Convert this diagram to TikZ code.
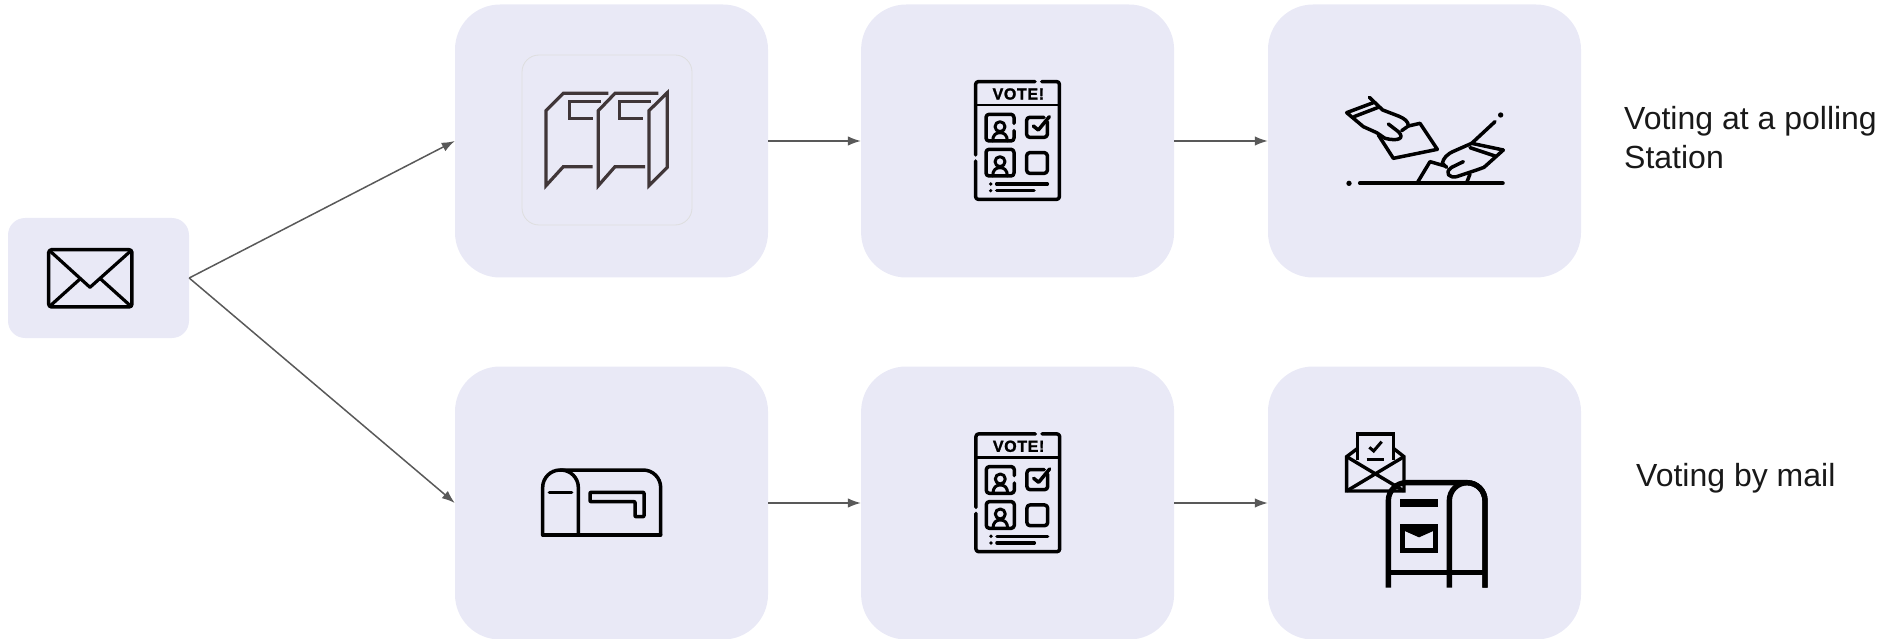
\documentclass[tikz,border=0pt]{standalone}
\usepackage{fontspec}
\setmainfont{Liberation Sans}
\usetikzlibrary{arrows.meta}
\definecolor{boxfill}{HTML}{E9E9F6}
\definecolor{flowgray}{HTML}{595959}
\definecolor{mailsink}{HTML}{403638}
\tikzset{
  bigbox/.style={fill=boxfill,draw=none,rounded corners=45pt,minimum width=313pt,minimum height=273pt,inner sep=0pt},
  smallbox/.style={fill=boxfill,draw=none,rounded corners=17pt,minimum width=181pt,minimum height=120pt,inner sep=0pt},
  flow/.style={draw=flowgray,line width=1.5pt,-{Latex[length=13pt,width=9.5pt]}},
  ink/.style={line width=#1,line cap=round,line join=round,draw=black},
  ink/.default=3.5pt,
  caption/.style={inner sep=0pt,align=left,font=\fontsize{32}{39}\selectfont,text=black!90}
}
\newcommand{\voteicon}[1]{%
  \draw[ink,rounded corners=2.5pt] (255,65) -- (77,65) -- (77,285);
  \draw[ink,rounded corners=2.5pt] (77,303) -- (77,418) -- (328,418) -- (328,65) -- (275,65);
  \draw[ink,line width=2.4pt] (77,135) -- (328,135);
  \node[inner sep=0pt,font=\bfseries\fontsize{16}{16}\selectfont] (#1) at (205,102) {\addfontfeature{LetterSpace=4,FakeBold=1.5}VOTE!};
  \draw[ink,rounded corners=3pt] (192,190) -- (192,163) -- (108,163) -- (108,243) -- (192,243) -- (192,212);
  \draw[ink,rounded corners=3pt] (108,268) rectangle (192,348);
  \draw[ink,line width=3pt] (150,200) circle[radius=15];
  \draw[ink,line width=3pt] (128,243) .. controls (128,225) and (138,218) .. (150,218) .. controls (162,218) and (172,225) .. (172,243);
  \draw[ink,line width=3pt] (150,305) circle[radius=15];
  \draw[ink,line width=3pt] (128,348) .. controls (128,330) and (138,323) .. (150,323) .. controls (162,323) and (172,330) .. (172,348);
  \draw[ink,rounded corners=3pt] (292,185) -- (292,232) -- (230,232) -- (230,172) -- (282,172);
  \draw[ink] (250,198) -- (265,210) -- (298,170);
  \draw[ink,rounded corners=3pt] (230,278) rectangle (292,340);
  \fill (122,372) circle[radius=5.5];
  \fill (122,392) circle[radius=5.5];
  \draw[ink] (140,372) -- (292,372);
  \draw[ink] (140,392) -- (252,392);
}
\begin{document}
\begin{tikzpicture}[x=1pt,y=-1pt]
\useasboundingbox (0,0) rectangle (1883,639);
% boxes
\node[smallbox] (env) at (98.5,278) {};
\node[bigbox] (a1) at (611.5,141) {};
\node[bigbox] (a2) at (1017.6,141) {};
\node[bigbox] (a3) at (1424.5,141) {};
\node[bigbox] (b1) at (611.5,503) {};
\node[bigbox] (b2) at (1017.6,503) {};
\node[bigbox] (b3) at (1424.5,503) {};
\node[draw=black!13,fill=boxfill,line width=.8pt,rounded corners=17pt,minimum width=170pt,minimum height=170pt,inner sep=0pt] (mailsframe) at (607,140) {};
% connectors
\draw[flow] (env.east) -- (a1.west);
\draw[flow] (env.east) -- (b1.west);
\draw[flow] (a1.east) -- (a2.west);
\draw[flow] (a2.east) -- (a3.west);
\draw[flow] (b1.east) -- (b2.west);
\draw[flow] (b2.east) -- (b3.west);
% envelope icon
\begin{scope}[shift={(0,200)},scale=1/3]
  \draw[ink=3.5pt,rounded corners=3pt] (146,149) rectangle (396,321);
  \draw[ink=3.2pt] (150,153) -- (270,262) -- (392,153);
  \draw[ink=3.2pt] (150,318) -- (240,237);
  \draw[ink=3.2pt] (392,318) -- (302,237);
\end{scope}
% mail slots icon
\begin{scope}[shift={(500,40)},scale=1/3]
  \tikzset{m/.style={draw=mailsink,line width=3.2pt,line cap=butt,line join=miter}}
  \draw[m] (325,160) -- (190,160) -- (138,212) -- (138,437) -- (190,380) -- (278,380);
  \draw[m] (302,184) -- (208,184) -- (208,235) -- (280,235);
  \draw[m] (475,160) -- (345,160) -- (295,212) -- (295,437) -- (345,380) -- (435,380);
  \draw[m] (452,184) -- (358,184) -- (358,235) -- (430,235);
  \draw[m] (502,158) -- (447,212) -- (447,437) -- (502,382) -- cycle;
\end{scope}
% ballot icons
\begin{scope}[shift={(950,60)},scale=1/3]
  \voteicon{voteA}
\end{scope}
\begin{scope}[shift={(950.3,412.3)},scale=1/3]
  \voteicon{voteB}
\end{scope}
% hands icon
\begin{scope}[shift={(1330,80)},scale=1/3]
  \draw[ink=4.2pt] (90,310) -- (518,310);
  \fill (57,310) circle[radius=8];
  \fill (512,105) circle[radius=8];
  % left hand
  \draw[ink] (118,52) -- (158,90) -- (205,108) .. controls (225,116) and (235,125) .. (235,138) -- (215,152);
  \draw[ink] (130,68) -- (50,98) -- (100,140) -- (140,158);
  \draw[ink] (72,110) -- (145,82);
  \draw[ink] (235,138) -- (270,130) -- (322,208) -- (190,235) -- (145,165);
  \draw[ink] (175,132) -- (205,155) .. controls (225,175) and (205,185) .. (165,175) -- (140,158);
  % right hand
  \draw[ink] (495,125) -- (425,190) -- (520,210) -- (462,262);
  \draw[ink] (425,190) -- (375,212) .. controls (350,222) and (340,235) .. (337,250) -- (350,262);
  \draw[ink] (420,203) -- (495,228);
  \draw[ink] (400,245) -- (365,262) .. controls (340,280) and (360,295) .. (380,290) -- (440,270) -- (462,262);
  \draw[ink] (262,308) -- (300,245) -- (345,258);
  \draw[ink] (410,308) -- (420,282);
\end{scope}
% mailbox small
\begin{scope}[shift={(520,450)},scale=1/3]
  \draw[ink,rounded corners=17.5pt] (68,255) -- (68,60) -- (175,60) -- (175,255);
  \draw[ink,rounded corners=17.5pt] (120,60) -- (422,60) -- (422,255);
  \draw[ink] (68,255) -- (422,255);
  \draw[ink] (88,127) -- (155,127);
  \draw[ink,rounded corners=.8pt] (210,127) -- (372,127) -- (372,200) -- (345,200) -- (345,155) -- (210,155) -- cycle;
\end{scope}
% mailbox large
\begin{scope}[shift={(1330,420)},scale=1/3]
  \tikzset{k/.style={draw=black,line width=5.4pt,line cap=butt,line join=miter}}
  \draw[k,rounded corners=18pt] (175,503) -- (175,188) -- (465,188) -- (465,503);
  \draw[k,rounded corners=18pt] (358,503) -- (358,188) -- (465,188) -- (465,503);
  \draw[k] (175,457) -- (465,457);
  \fill (210,238) rectangle (323,262);
  \draw[k] (218,320) rectangle (316,392);
  \fill (222,322) -- (312,322) -- (312,332) -- (267,352) -- (222,332) -- cycle;
  % envelope with letter
  \tikzset{e/.style={draw=black,line width=3.4pt,line cap=butt,line join=miter}}
  \draw[e] (83,120) -- (83,42) -- (190,42) -- (190,120);
  \draw[e] (83,85) -- (50,110) -- (50,213) -- (222,213) -- (222,110) -- (190,85);
  \draw[e] (50,110) -- (222,213);
  \draw[e] (222,110) -- (50,213);
  \draw[line width=3pt] (118,82) -- (131,93) -- (155,65);
  \draw[line width=3pt] (110,117) -- (162,117);
\end{scope}
% captions
\node[caption,anchor=north west] (capA) at (1624,106) {Voting at a polling\\Station};
\node[caption,anchor=west] (capB) at (1636,478) {Voting by mail};
\end{tikzpicture}
\end{document}
